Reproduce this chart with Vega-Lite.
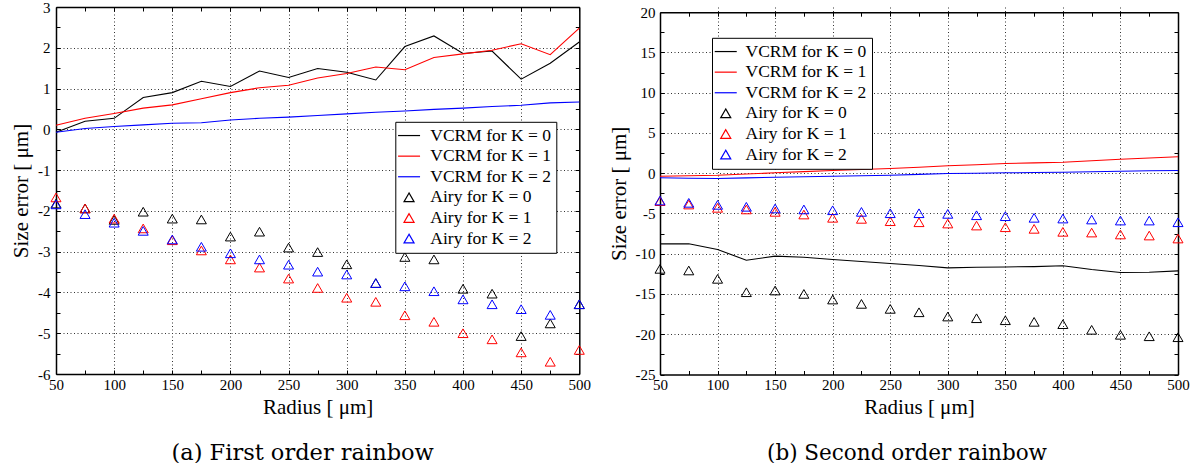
{
"$schema": "https://vega.github.io/schema/vega-lite/v6.json",
"background": "white",
"padding": {"left": 10, "top": 0, "right": 5, "bottom": 0},
"bounds": "flush",
"spacing": 80,
"config": {
  "font": "Liberation Serif",
  "view": {"stroke": null},
  "axis": {"domainColor": "black", "domainWidth": 1.5, "tickColor": "black", "tickWidth": 1, "tickSize": -4,
           "labelFont": "Liberation Serif", "labelFontSize": 15, "labelColor": "black", "labelFlush": false, "labelOverlap": false,
           "titleFont": "Liberation Serif", "titleFontSize": 21, "titleFontWeight": "normal", "titleColor": "black",
           "gridColor": "#333333", "gridDash": [1, 2.5], "gridWidth": 1},
  "legend": {"labelFont": "Liberation Serif", "labelFontSize": 17.5, "labelColor": "black", "labelLimit": 400}
},
"datasets": {
"first": [
{"series":"VCRM for K = 0","radius":50,"error":-0.07},{"series":"VCRM for K = 0","radius":75,"error":0.2},{"series":"VCRM for K = 0","radius":100,"error":0.27},{"series":"VCRM for K = 0","radius":125,"error":0.78},{"series":"VCRM for K = 0","radius":150,"error":0.9},{"series":"VCRM for K = 0","radius":175,"error":1.18},{"series":"VCRM for K = 0","radius":200,"error":1.05},{"series":"VCRM for K = 0","radius":225,"error":1.43},{"series":"VCRM for K = 0","radius":250,"error":1.27},{"series":"VCRM for K = 0","radius":275,"error":1.49},{"series":"VCRM for K = 0","radius":300,"error":1.4},{"series":"VCRM for K = 0","radius":325,"error":1.21},{"series":"VCRM for K = 0","radius":350,"error":2.03},{"series":"VCRM for K = 0","radius":375,"error":2.29},{"series":"VCRM for K = 0","radius":400,"error":1.86},{"series":"VCRM for K = 0","radius":425,"error":1.92},{"series":"VCRM for K = 0","radius":450,"error":1.23},{"series":"VCRM for K = 0","radius":475,"error":1.62},{"series":"VCRM for K = 0","radius":500,"error":2.14},
{"series":"VCRM for K = 1","radius":50,"error":0.1},{"series":"VCRM for K = 1","radius":75,"error":0.27},{"series":"VCRM for K = 1","radius":100,"error":0.39},{"series":"VCRM for K = 1","radius":125,"error":0.52},{"series":"VCRM for K = 1","radius":150,"error":0.6},{"series":"VCRM for K = 1","radius":175,"error":0.75},{"series":"VCRM for K = 1","radius":200,"error":0.9},{"series":"VCRM for K = 1","radius":225,"error":1.02},{"series":"VCRM for K = 1","radius":250,"error":1.08},{"series":"VCRM for K = 1","radius":275,"error":1.26},{"series":"VCRM for K = 1","radius":300,"error":1.37},{"series":"VCRM for K = 1","radius":325,"error":1.53},{"series":"VCRM for K = 1","radius":350,"error":1.46},{"series":"VCRM for K = 1","radius":375,"error":1.76},{"series":"VCRM for K = 1","radius":400,"error":1.85},{"series":"VCRM for K = 1","radius":425,"error":1.94},{"series":"VCRM for K = 1","radius":450,"error":2.1},{"series":"VCRM for K = 1","radius":475,"error":1.83},{"series":"VCRM for K = 1","radius":500,"error":2.48},
{"series":"VCRM for K = 2","radius":50,"error":-0.07},{"series":"VCRM for K = 2","radius":75,"error":0.02},{"series":"VCRM for K = 2","radius":100,"error":0.07},{"series":"VCRM for K = 2","radius":125,"error":0.11},{"series":"VCRM for K = 2","radius":150,"error":0.15},{"series":"VCRM for K = 2","radius":175,"error":0.16},{"series":"VCRM for K = 2","radius":200,"error":0.23},{"series":"VCRM for K = 2","radius":225,"error":0.27},{"series":"VCRM for K = 2","radius":250,"error":0.3},{"series":"VCRM for K = 2","radius":275,"error":0.34},{"series":"VCRM for K = 2","radius":300,"error":0.38},{"series":"VCRM for K = 2","radius":325,"error":0.42},{"series":"VCRM for K = 2","radius":350,"error":0.45},{"series":"VCRM for K = 2","radius":375,"error":0.49},{"series":"VCRM for K = 2","radius":400,"error":0.52},{"series":"VCRM for K = 2","radius":425,"error":0.56},{"series":"VCRM for K = 2","radius":450,"error":0.59},{"series":"VCRM for K = 2","radius":475,"error":0.65},{"series":"VCRM for K = 2","radius":500,"error":0.67},
{"series":"Airy for K = 0","radius":50,"error":-1.82},{"series":"Airy for K = 0","radius":75,"error":-1.94},{"series":"Airy for K = 0","radius":100,"error":-2.22},{"series":"Airy for K = 0","radius":125,"error":-2.02},{"series":"Airy for K = 0","radius":150,"error":-2.19},{"series":"Airy for K = 0","radius":175,"error":-2.21},{"series":"Airy for K = 0","radius":200,"error":-2.63},{"series":"Airy for K = 0","radius":225,"error":-2.51},{"series":"Airy for K = 0","radius":250,"error":-2.9},{"series":"Airy for K = 0","radius":275,"error":-3.01},{"series":"Airy for K = 0","radius":300,"error":-3.31},{"series":"Airy for K = 0","radius":325,"error":-3.77},{"series":"Airy for K = 0","radius":350,"error":-3.13},{"series":"Airy for K = 0","radius":375,"error":-3.19},{"series":"Airy for K = 0","radius":400,"error":-3.91},{"series":"Airy for K = 0","radius":425,"error":-4.03},{"series":"Airy for K = 0","radius":450,"error":-5.07},{"series":"Airy for K = 0","radius":475,"error":-4.76},{"series":"Airy for K = 0","radius":500,"error":-4.29},
{"series":"Airy for K = 1","radius":50,"error":-1.67},{"series":"Airy for K = 1","radius":75,"error":-1.94},{"series":"Airy for K = 1","radius":100,"error":-2.19},{"series":"Airy for K = 1","radius":125,"error":-2.43},{"series":"Airy for K = 1","radius":150,"error":-2.72},{"series":"Airy for K = 1","radius":175,"error":-2.97},{"series":"Airy for K = 1","radius":200,"error":-3.19},{"series":"Airy for K = 1","radius":225,"error":-3.39},{"series":"Airy for K = 1","radius":250,"error":-3.66},{"series":"Airy for K = 1","radius":275,"error":-3.89},{"series":"Airy for K = 1","radius":300,"error":-4.13},{"series":"Airy for K = 1","radius":325,"error":-4.23},{"series":"Airy for K = 1","radius":350,"error":-4.56},{"series":"Airy for K = 1","radius":375,"error":-4.72},{"series":"Airy for K = 1","radius":400,"error":-5.0},{"series":"Airy for K = 1","radius":425,"error":-5.15},{"series":"Airy for K = 1","radius":450,"error":-5.47},{"series":"Airy for K = 1","radius":475,"error":-5.7},{"series":"Airy for K = 1","radius":500,"error":-5.41},
{"series":"Airy for K = 2","radius":50,"error":-1.84},{"series":"Airy for K = 2","radius":75,"error":-2.08},{"series":"Airy for K = 2","radius":100,"error":-2.29},{"series":"Airy for K = 2","radius":125,"error":-2.49},{"series":"Airy for K = 2","radius":150,"error":-2.7},{"series":"Airy for K = 2","radius":175,"error":-2.88},{"series":"Airy for K = 2","radius":200,"error":-3.04},{"series":"Airy for K = 2","radius":225,"error":-3.19},{"series":"Airy for K = 2","radius":250,"error":-3.32},{"series":"Airy for K = 2","radius":275,"error":-3.49},{"series":"Airy for K = 2","radius":300,"error":-3.56},{"series":"Airy for K = 2","radius":325,"error":-3.77},{"series":"Airy for K = 2","radius":350,"error":-3.85},{"series":"Airy for K = 2","radius":375,"error":-3.97},{"series":"Airy for K = 2","radius":400,"error":-4.17},{"series":"Airy for K = 2","radius":425,"error":-4.29},{"series":"Airy for K = 2","radius":450,"error":-4.41},{"series":"Airy for K = 2","radius":475,"error":-4.55},{"series":"Airy for K = 2","radius":500,"error":-4.29}
],
"second": [
{"series":"VCRM for K = 0","radius":50,"error":-8.77},{"series":"VCRM for K = 0","radius":75,"error":-8.77},{"series":"VCRM for K = 0","radius":100,"error":-9.48},{"series":"VCRM for K = 0","radius":125,"error":-10.8},{"series":"VCRM for K = 0","radius":150,"error":-10.3},{"series":"VCRM for K = 0","radius":175,"error":-10.43},{"series":"VCRM for K = 0","radius":200,"error":-10.72},{"series":"VCRM for K = 0","radius":225,"error":-10.97},{"series":"VCRM for K = 0","radius":250,"error":-11.22},{"series":"VCRM for K = 0","radius":275,"error":-11.47},{"series":"VCRM for K = 0","radius":300,"error":-11.76},{"series":"VCRM for K = 0","radius":325,"error":-11.68},{"series":"VCRM for K = 0","radius":350,"error":-11.64},{"series":"VCRM for K = 0","radius":375,"error":-11.6},{"series":"VCRM for K = 0","radius":400,"error":-11.5},{"series":"VCRM for K = 0","radius":425,"error":-11.96},{"series":"VCRM for K = 0","radius":450,"error":-12.33},{"series":"VCRM for K = 0","radius":475,"error":-12.3},{"series":"VCRM for K = 0","radius":500,"error":-12.13},
{"series":"VCRM for K = 1","radius":50,"error":-0.37},{"series":"VCRM for K = 1","radius":75,"error":-0.32},{"series":"VCRM for K = 1","radius":100,"error":-0.25},{"series":"VCRM for K = 1","radius":125,"error":-0.1},{"series":"VCRM for K = 1","radius":150,"error":0.05},{"series":"VCRM for K = 1","radius":175,"error":0.2},{"series":"VCRM for K = 1","radius":200,"error":0.34},{"series":"VCRM for K = 1","radius":225,"error":0.46},{"series":"VCRM for K = 1","radius":250,"error":0.58},{"series":"VCRM for K = 1","radius":275,"error":0.75},{"series":"VCRM for K = 1","radius":300,"error":0.92},{"series":"VCRM for K = 1","radius":325,"error":1.06},{"series":"VCRM for K = 1","radius":350,"error":1.2},{"series":"VCRM for K = 1","radius":375,"error":1.28},{"series":"VCRM for K = 1","radius":400,"error":1.37},{"series":"VCRM for K = 1","radius":425,"error":1.55},{"series":"VCRM for K = 1","radius":450,"error":1.74},{"series":"VCRM for K = 1","radius":475,"error":1.89},{"series":"VCRM for K = 1","radius":500,"error":2.04},
{"series":"VCRM for K = 2","radius":50,"error":-0.57},{"series":"VCRM for K = 2","radius":75,"error":-0.62},{"series":"VCRM for K = 2","radius":100,"error":-0.66},{"series":"VCRM for K = 2","radius":125,"error":-0.58},{"series":"VCRM for K = 2","radius":150,"error":-0.5},{"series":"VCRM for K = 2","radius":175,"error":-0.43},{"series":"VCRM for K = 2","radius":200,"error":-0.37},{"series":"VCRM for K = 2","radius":225,"error":-0.31},{"series":"VCRM for K = 2","radius":250,"error":-0.25},{"series":"VCRM for K = 2","radius":275,"error":-0.14},{"series":"VCRM for K = 2","radius":300,"error":-0.04},{"series":"VCRM for K = 2","radius":325,"error":0.0},{"series":"VCRM for K = 2","radius":350,"error":0.05},{"series":"VCRM for K = 2","radius":375,"error":0.09},{"series":"VCRM for K = 2","radius":400,"error":0.13},{"series":"VCRM for K = 2","radius":425,"error":0.19},{"series":"VCRM for K = 2","radius":450,"error":0.25},{"series":"VCRM for K = 2","radius":475,"error":0.3},{"series":"VCRM for K = 2","radius":500,"error":0.34},
{"series":"Airy for K = 0","radius":50,"error":-11.88},{"series":"Airy for K = 0","radius":75,"error":-12.08},{"series":"Airy for K = 0","radius":100,"error":-13.12},{"series":"Airy for K = 0","radius":125,"error":-14.78},{"series":"Airy for K = 0","radius":150,"error":-14.57},{"series":"Airy for K = 0","radius":175,"error":-14.99},{"series":"Airy for K = 0","radius":200,"error":-15.69},{"series":"Airy for K = 0","radius":225,"error":-16.23},{"series":"Airy for K = 0","radius":250,"error":-16.85},{"series":"Airy for K = 0","radius":275,"error":-17.27},{"series":"Airy for K = 0","radius":300,"error":-17.8},{"series":"Airy for K = 0","radius":325,"error":-18.01},{"series":"Airy for K = 0","radius":350,"error":-18.26},{"series":"Airy for K = 0","radius":375,"error":-18.46},{"series":"Airy for K = 0","radius":400,"error":-18.75},{"series":"Airy for K = 0","radius":425,"error":-19.45},{"series":"Airy for K = 0","radius":450,"error":-20.07},{"series":"Airy for K = 0","radius":475,"error":-20.25},{"series":"Airy for K = 0","radius":500,"error":-20.37},
{"series":"Airy for K = 1","radius":50,"error":-3.47},{"series":"Airy for K = 1","radius":75,"error":-3.89},{"series":"Airy for K = 1","radius":100,"error":-4.3},{"series":"Airy for K = 1","radius":125,"error":-4.5},{"series":"Airy for K = 1","radius":150,"error":-4.8},{"series":"Airy for K = 1","radius":175,"error":-5.13},{"series":"Airy for K = 1","radius":200,"error":-5.54},{"series":"Airy for K = 1","radius":225,"error":-5.67},{"series":"Airy for K = 1","radius":250,"error":-5.96},{"series":"Airy for K = 1","radius":275,"error":-6.09},{"series":"Airy for K = 1","radius":300,"error":-6.25},{"series":"Airy for K = 1","radius":325,"error":-6.5},{"series":"Airy for K = 1","radius":350,"error":-6.71},{"series":"Airy for K = 1","radius":375,"error":-6.91},{"series":"Airy for K = 1","radius":400,"error":-7.28},{"series":"Airy for K = 1","radius":425,"error":-7.37},{"series":"Airy for K = 1","radius":450,"error":-7.61},{"series":"Airy for K = 1","radius":475,"error":-7.74},{"series":"Airy for K = 1","radius":500,"error":-8.11},
{"series":"Airy for K = 2","radius":50,"error":-3.39},{"series":"Airy for K = 2","radius":75,"error":-3.68},{"series":"Airy for K = 2","radius":100,"error":-3.93},{"series":"Airy for K = 2","radius":125,"error":-4.17},{"series":"Airy for K = 2","radius":150,"error":-4.38},{"series":"Airy for K = 2","radius":175,"error":-4.5},{"series":"Airy for K = 2","radius":200,"error":-4.6},{"series":"Airy for K = 2","radius":225,"error":-4.8},{"series":"Airy for K = 2","radius":250,"error":-4.97},{"series":"Airy for K = 2","radius":275,"error":-4.97},{"series":"Airy for K = 2","radius":300,"error":-5.05},{"series":"Airy for K = 2","radius":325,"error":-5.22},{"series":"Airy for K = 2","radius":350,"error":-5.34},{"series":"Airy for K = 2","radius":375,"error":-5.54},{"series":"Airy for K = 2","radius":400,"error":-5.63},{"series":"Airy for K = 2","radius":425,"error":-5.75},{"series":"Airy for K = 2","radius":450,"error":-5.88},{"series":"Airy for K = 2","radius":475,"error":-5.88},{"series":"Airy for K = 2","radius":500,"error":-6.09}
]
},
"resolve": {"scale": {"color": "independent", "shape": "independent"}, "legend": {"color": "independent", "shape": "independent"}},
"hconcat": [
{
  "width": 523.3, "height": 367,
  "data": {"name": "first"},
  "title": {"text": "(a) First order rainbow", "orient": "bottom", "anchor": "middle", "dx": -15, "offset": 25, "fontSize": 22.5, "font": "DejaVu Serif", "fontWeight": "normal", "color": "black"},
  "encoding": {
    "color": {"field": "series", "type": "nominal",
      "scale": {"domain": ["VCRM for K = 0","VCRM for K = 1","VCRM for K = 2","Airy for K = 0","Airy for K = 1","Airy for K = 2"], "range": ["black","red","blue","black","red","blue"]},
      "legend": {"title": null, "orient": "none", "legendX": 339.3, "legendY": 114.8, "direction": "vertical", "strokeColor": "black", "fillColor": "white", "padding": 5, "symbolSize": 225, "symbolStrokeWidth": 1.2, "labelOffset": 12.5, "rowPadding": 1.6,
                 "encode": {"symbols": {"update": {"size": {"signal": "datum.value === 'VCRM for K = 0' || datum.value === 'VCRM for K = 1' || datum.value === 'VCRM for K = 2' ? 484 : 100"}}}}}}
  },
  "layer": [
    {"transform": [{"filter": {"field": "series", "oneOf": ["VCRM for K = 0","VCRM for K = 1","VCRM for K = 2"]}}],
     "mark": {"type": "line", "strokeWidth": 1.1},
     "encoding": {
       "x": {"field": "radius", "type": "quantitative", "scale": {"domain": [50, 500], "nice": false, "zero": false},
             "axis": {"orient": "bottom", "title": "Radius [ μm]", "values": [50,75,100,125,150,175,200,225,250,275,300,325,350,375,400,425,450,475,500],
                      "labelExpr": "datum.value % 50 === 0 ? datum.value + '' : ''", "labelPadding": 7, "titlePadding": 4,
                      "gridOpacity": {"condition": {"test": "datum.value % 50 === 0 && datum.value > 50 && datum.value < 500", "value": 1}, "value": 0}}},
       "y": {"field": "error", "type": "quantitative", "scale": {"domain": [-6, 3], "nice": false, "zero": false},
             "axis": {"orient": "left", "title": "Size error [ μm]", "values": [-6,-5.5,-5,-4.5,-4,-3.5,-3,-2.5,-2,-1.5,-1,-0.5,0,0.5,1,1.5,2,2.5,3],
                      "labelExpr": "datum.value % 1 === 0 ? '' + datum.value : ''", "labelPadding": 10, "titlePadding": 6,
                      "gridOpacity": {"condition": {"test": "datum.value % 1 === 0 && datum.value > -6 && datum.value < 3", "value": 1}, "value": 0}}}
     }},
    {"transform": [{"filter": {"field": "series", "oneOf": ["Airy for K = 0","Airy for K = 1","Airy for K = 2"]}}],
     "mark": {"type": "point", "filled": false, "size": 100, "strokeWidth": 1, "opacity": 1},
     "encoding": {
       "x": {"field": "radius", "type": "quantitative",
             "axis": {"orient": "top", "title": null, "labels": false, "grid": false, "values": [50,75,100,125,150,175,200,225,250,275,300,325,350,375,400,425,450,475,500]}},
       "y": {"field": "error", "type": "quantitative",
             "axis": {"orient": "right", "title": null, "labels": false, "grid": false, "values": [-6,-5.5,-5,-4.5,-4,-3.5,-3,-2.5,-2,-1.5,-1,-0.5,0,0.5,1,1.5,2,2.5,3]}},
       "shape": {"field": "series", "type": "nominal",
         "scale": {"domain": ["VCRM for K = 0","VCRM for K = 1","VCRM for K = 2","Airy for K = 0","Airy for K = 1","Airy for K = 2"], "range": ["stroke","stroke","stroke","triangle-up","triangle-up","triangle-up"]},
         "legend": {"title": null, "orient": "none", "legendX": 339.3, "legendY": 114.8, "direction": "vertical", "strokeColor": "black", "fillColor": "white", "padding": 5, "symbolSize": 225, "symbolStrokeWidth": 1.2, "labelOffset": 12.5, "rowPadding": 1.6,
                 "encode": {"symbols": {"update": {"size": {"signal": "datum.value === 'VCRM for K = 0' || datum.value === 'VCRM for K = 1' || datum.value === 'VCRM for K = 2' ? 484 : 100"}}}}}}
     }}
  ],
  "resolve": {"axis": {"x": "independent", "y": "independent"}}
},
{
  "width": 518, "height": 367.5,
  "data": {"name": "second"},
  "title": {"text": "(b) Second order rainbow", "orient": "bottom", "anchor": "middle", "dx": -12, "offset": 25, "fontSize": 21.5, "font": "DejaVu Serif", "fontWeight": "normal", "color": "black"},
  "encoding": {
    "color": {"field": "series", "type": "nominal",
      "scale": {"domain": ["VCRM for K = 0","VCRM for K = 1","VCRM for K = 2","Airy for K = 0","Airy for K = 1","Airy for K = 2"], "range": ["black","red","blue","black","red","blue"]},
      "legend": {"title": null, "orient": "none", "legendX": 52, "legendY": 30.8, "direction": "vertical", "strokeColor": "black", "fillColor": "white", "padding": 5, "symbolSize": 225, "symbolStrokeWidth": 1.2, "labelOffset": 11, "rowPadding": 1.6,
                 "encode": {"symbols": {"update": {"size": {"signal": "datum.value === 'VCRM for K = 0' || datum.value === 'VCRM for K = 1' || datum.value === 'VCRM for K = 2' ? 484 : 100"}}}}}}
  },
  "layer": [
    {"transform": [{"filter": {"field": "series", "oneOf": ["VCRM for K = 0","VCRM for K = 1","VCRM for K = 2"]}}],
     "mark": {"type": "line", "strokeWidth": 1.1},
     "encoding": {
       "x": {"field": "radius", "type": "quantitative", "scale": {"domain": [50, 500], "nice": false, "zero": false},
             "axis": {"orient": "bottom", "title": "Radius [ μm]", "values": [50,75,100,125,150,175,200,225,250,275,300,325,350,375,400,425,450,475,500],
                      "labelExpr": "datum.value % 50 === 0 ? datum.value + '' : ''", "labelPadding": 7, "titlePadding": 4,
                      "gridOpacity": {"condition": {"test": "datum.value % 50 === 0 && datum.value > 50 && datum.value < 500", "value": 1}, "value": 0}}},
       "y": {"field": "error", "type": "quantitative", "scale": {"domain": [-25, 20], "nice": false, "zero": false, "range": [367.5, 5.2]},
             "axis": {"orient": "left", "title": "Size error [ μm]", "values": [-25,-22.5,-20,-17.5,-15,-12.5,-10,-7.5,-5,-2.5,0,2.5,5,7.5,10,12.5,15,17.5,20],
                      "labelExpr": "datum.value % 5 === 0 ? '' + datum.value : ''", "labelPadding": 9, "titlePadding": 6,
                      "gridOpacity": {"condition": {"test": "datum.value % 5 === 0 && datum.value > -25 && datum.value < 20", "value": 1}, "value": 0}}}
     }},
    {"transform": [{"filter": {"field": "series", "oneOf": ["Airy for K = 0","Airy for K = 1","Airy for K = 2"]}}],
     "mark": {"type": "point", "filled": false, "size": 100, "strokeWidth": 1, "opacity": 1},
     "encoding": {
       "x": {"field": "radius", "type": "quantitative",
             "axis": {"orient": "top", "title": null, "labels": false, "grid": false, "offset": -5.2, "values": [50,75,100,125,150,175,200,225,250,275,300,325,350,375,400,425,450,475,500]}},
       "y": {"field": "error", "type": "quantitative",
             "axis": {"orient": "right", "title": null, "labels": false, "grid": false, "values": [-25,-22.5,-20,-17.5,-15,-12.5,-10,-7.5,-5,-2.5,0,2.5,5,7.5,10,12.5,15,17.5,20]}},
       "shape": {"field": "series", "type": "nominal",
         "scale": {"domain": ["VCRM for K = 0","VCRM for K = 1","VCRM for K = 2","Airy for K = 0","Airy for K = 1","Airy for K = 2"], "range": ["stroke","stroke","stroke","triangle-up","triangle-up","triangle-up"]},
         "legend": {"title": null, "orient": "none", "legendX": 52, "legendY": 30.8, "direction": "vertical", "strokeColor": "black", "fillColor": "white", "padding": 5, "symbolSize": 225, "symbolStrokeWidth": 1.2, "labelOffset": 11, "rowPadding": 1.6,
                 "encode": {"symbols": {"update": {"size": {"signal": "datum.value === 'VCRM for K = 0' || datum.value === 'VCRM for K = 1' || datum.value === 'VCRM for K = 2' ? 484 : 100"}}}}}}
     }}
  ],
  "resolve": {"axis": {"x": "independent", "y": "independent"}}
}
]
}
